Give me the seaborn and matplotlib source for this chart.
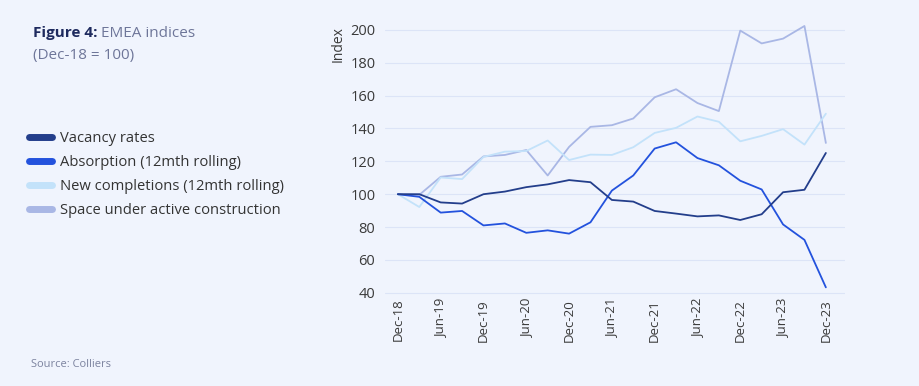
import numpy as np
import pandas as pd
import matplotlib
matplotlib.use("Agg")
import matplotlib.pyplot as plt
import seaborn as sns
from matplotlib.lines import Line2D

quarters = ["Dec-18", "Mar-19", "Jun-19", "Sep-19", "Dec-19", "Mar-20", "Jun-20", "Sep-20",
            "Dec-20", "Mar-21", "Jun-21", "Sep-21", "Dec-21", "Mar-22", "Jun-22", "Sep-22",
            "Dec-22", "Mar-23", "Jun-23", "Sep-23", "Dec-23"]
vacancy = [100, 100, 95, 94.3, 100, 101.6, 104.3, 106, 108.6, 107.3, 96.5, 95.5, 89.8, 88.2,
           86.5, 87.1, 84.3, 87.8, 101.2, 102.7, 125.1]
absorption = [100, 98.4, 88.8, 89.8, 81, 82.2, 76.5, 78, 76, 82.9, 102.2, 111.4, 127.8, 131.6,
              122, 117.6, 108.2, 102.9, 81.6, 72.2, 43.3]
completions = [100, 92.2, 110.2, 109.2, 122.7, 125.9, 126.3, 132.7, 120.8, 124.1, 123.9, 128.6,
               137.3, 140.4, 147.3, 144.1, 132.2, 135.5, 139.6, 130.2, 149]
construction = [100, 99.6, 110.6, 112, 123, 123.9, 126.9, 111.4, 128.8, 141, 142, 146.1, 159,
                163.9, 155.5, 150.6, 199.6, 191.8, 194.7, 202.4, 131.2]
series_names = ["Vacancy rates", "Absorption (12mth rolling)", "New completions (12mth rolling)",
                "Space under active construction"]
yticks = [40, 60, 80, 100, 120, 140, 160, 180, 200]

colors = ["#233E8B", "#2352DD", "#C3E2FA", "#A9B7E5"]
bg = "#F0F4FD"

sns.set_theme(style="white")
plt.rcParams["font.family"] = ["Open Sans", "DejaVu Sans"]

n = len(quarters)
df = pd.DataFrame({
    "q": list(range(n)) * 4,
    "value": vacancy + absorption + completions + construction,
    "series": sum([[s] * n for s in series_names], []),
})

fig = plt.figure(figsize=(9.19, 3.86), dpi=100, facecolor=bg)
ax = fig.add_axes([0.419, 0.233, 0.5006, 0.715])
ax.set_facecolor(bg)

# draw lighter series first so darker ones are on top
order = [3, 2, 1, 0]
for i in order:
    sub = df[df["series"] == series_names[i]]
    sns.lineplot(data=sub, x="q", y="value", color=colors[i], lw=1.3, ax=ax,
                 label=series_names[i], legend=False)

ax.set_xlim(-0.6, 20.9)
ax.set_ylim(38, 206)
ax.set_yticks(yticks)
ax.set_yticklabels([str(v) for v in yticks], fontsize=10.5, color="#3A3A3A")
ax.set_xticks(list(range(0, n, 2)))
ax.set_xticklabels(quarters[::2], rotation=90, fontsize=9.5, color="#3A3A3A")
ax.tick_params(axis="y", length=0, pad=7)
ax.tick_params(axis="x", length=0, pad=2)
ax.grid(axis="y", color="#DCE4F7", lw=0.8)
ax.set_axisbelow(True)
for s in ax.spines.values():
    s.set_visible(False)
ax.set_xlabel("")
ax.set_ylabel("Index", fontsize=10, color="#3A3A3A")
ax.yaxis.set_label_coords(-0.085, 0.912)

# legend
handles = [Line2D([0], [0], color=c, lw=5) for c in colors]
leg = fig.legend(handles, series_names, loc="upper left", bbox_to_anchor=(0.0316, 0.66),
                 frameon=False, fontsize=10.6, handlelength=1.55, handletextpad=0.55,
                 labelspacing=0.6, borderaxespad=0, borderpad=0)
for t in leg.get_texts():
    t.set_color("#333333")

# title
t1 = fig.text(0.036, 0.905, "Figure 4:", fontsize=11, fontweight="bold", color="#1E2A5E",
              ha="left", va="baseline")
fig.canvas.draw()
bb = t1.get_window_extent()
x_end = bb.x1 / fig.bbox.width
fig.text(x_end + 0.004, 0.905, "EMEA indices", fontsize=11, color="#6E7699",
         ha="left", va="baseline")
fig.text(0.036, 0.848, "(Dec-18 = 100)", fontsize=11, color="#6E7699", ha="left", va="baseline")

fig.text(0.034, 0.05, "Source: Colliers", fontsize=8, color="#7C839F", ha="left", va="baseline")

fig.savefig("out.png", dpi=100, facecolor=bg)
